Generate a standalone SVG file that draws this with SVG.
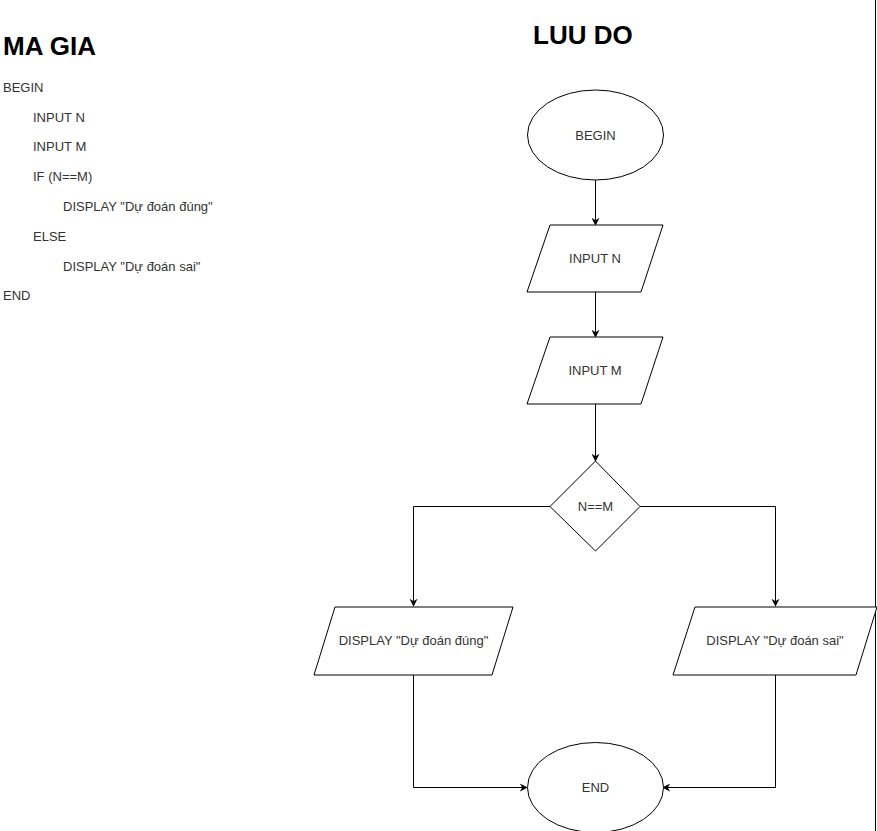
<svg xmlns="http://www.w3.org/2000/svg" width="877" height="831" viewBox="0 0 877 831">
<defs>
<style>
.t{font-family:"Liberation Sans",Arial,sans-serif;font-size:13px;fill:#333}
.h{font-family:"Liberation Sans",Arial,sans-serif;font-size:26px;font-weight:bold;fill:#000}
.c{font-family:"Liberation Sans",Arial,sans-serif;font-size:13px;fill:#333;text-anchor:middle}
.s{fill:#fff;stroke:#000;stroke-width:1}
.e{fill:none;stroke:#000;stroke-width:1;marker-end:url(#ah)}
</style>
<marker id="ah" viewBox="0 0 10 10" refX="9" refY="5" markerWidth="8" markerHeight="8" markerUnits="userSpaceOnUse" orient="auto">
<path d="M0,0 L10,5 L0,10 L3,5 Z" fill="#000"/>
</marker>
</defs>
<rect width="877" height="831" fill="#fff"/>
<line x1="875.5" y1="0" x2="875.5" y2="831" stroke="#000" stroke-width="1"/>
<g id="pseudocode">
<text class="h" x="3" y="55">MA GIA</text>
<text class="t" x="3" y="92">BEGIN</text>
<text class="t" x="33" y="122">INPUT N</text>
<text class="t" x="33" y="151">INPUT M</text>
<text class="t" x="33" y="181">IF (N==M)</text>
<text class="t" x="63" y="211">DISPLAY "Dự đoán đúng"</text>
<text class="t" x="33" y="241">ELSE</text>
<text class="t" x="63" y="271">DISPLAY "Dự đoán sai"</text>
<text class="t" x="3" y="300">END</text>
</g>
<text class="h" x="533" y="44">LUU DO</text>
<g id="connectors">
<path class="e" d="M595.5,180 L595.5,225"/>
<path class="e" d="M595.5,292 L595.5,337"/>
<path class="e" d="M595.5,404 L595.5,461"/>
<path class="e" d="M550,506.5 L413.5,506.5 L413.5,606"/>
<path class="e" d="M640,506.5 L775.5,506.5 L775.5,606"/>
<path class="e" d="M413.5,675 L413.5,787.5 L527,787.5"/>
<path class="e" d="M775.5,675 L775.5,787.5 L663,787.5"/>
</g>
<g id="begin">
<ellipse class="s" cx="595.5" cy="135" rx="68" ry="45"/>
<text class="c" x="595.5" y="140">BEGIN</text>
</g>
<g id="input-n">
<polygon class="s" points="550,225 663,225 641,292 527,292"/>
<text class="c" x="595" y="263">INPUT N</text>
</g>
<g id="input-m">
<polygon class="s" points="550,337 663,337 641,404 527,404"/>
<text class="c" x="595" y="375">INPUT M</text>
</g>
<g id="decision">
<polygon class="s" points="595.5,461 640,506.5 595.5,551 550,506.5"/>
<text class="c" x="595.5" y="511">N==M</text>
</g>
<g id="display-dung">
<polygon class="s" points="335,607 513,607 492,675 314,675"/>
<text class="c" x="413.5" y="645">DISPLAY "Dự đoán đúng"</text>
</g>
<g id="display-sai">
<polygon class="s" points="695,607 877,607 856,675 673,675"/>
<text class="c" x="775" y="645">DISPLAY "Dự đoán sai"</text>
</g>
<g id="end">
<ellipse class="s" cx="595.5" cy="787.5" rx="68" ry="45"/>
<text class="c" x="595.5" y="792">END</text>
</g>
</svg>
